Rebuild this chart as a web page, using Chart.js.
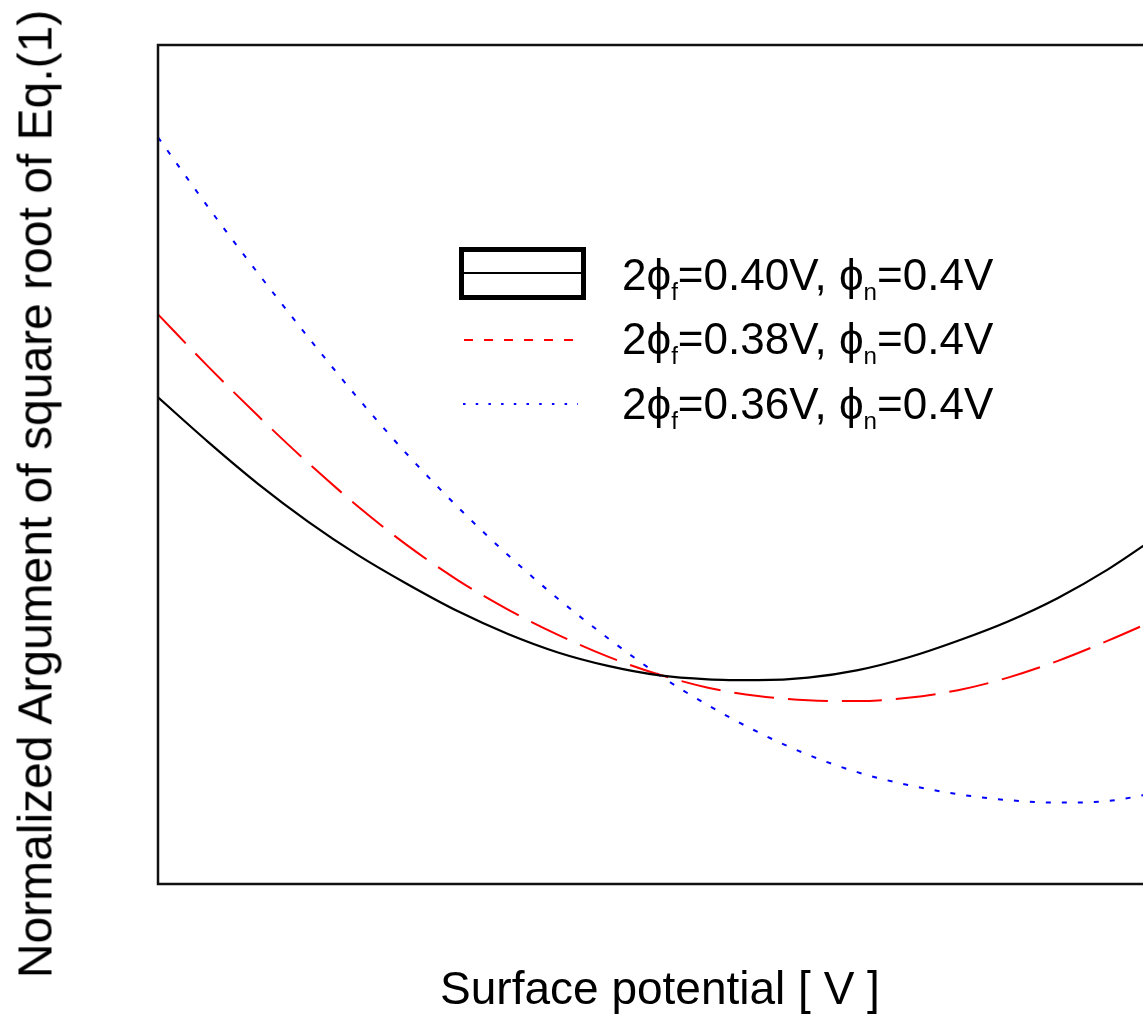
<!DOCTYPE html>
<html>
<head>
<meta charset="utf-8">
<script src="https://cdn.jsdelivr.net/npm/chart.js@4/dist/chart.umd.min.js"></script>
<style>
    html, body { margin: 0; padding: 0; background: #fff; overflow: hidden; }
    #wrap { position: relative; width: 1165px; height: 1014px; }
    #chart { position: absolute; left: 0; top: 0; }
    .txt { position: absolute; white-space: nowrap; font-family: "Liberation Sans", Arial, sans-serif; color: #000; }
    #ytitle { left: 35px; top: 494px; font-size: 48px; transform: translate(-50%, -50%) rotate(-90deg); }
    #xtitle { left: 660px; top: 988px; font-size: 46px; transform: translate(-50%, -50%); }
    .leg { left: 622px; font-size: 44px; transform: translateY(-50%); }
    .leg sub { font-size: 0.55em; vertical-align: -0.4em; line-height: 0; }
    #legbox { position: absolute; left: 459px; top: 247px; width: 127px; height: 53px; box-sizing: border-box; border: 5px solid #000; }
    #legbox div { position: absolute; left: 0; right: 0; top: 20px; height: 2px; background: #000; }
    #legsvg { position: absolute; left: 450px; top: 320px; }
</style>
</head>
<body>
<div id="wrap">
    <canvas id="chart" width="1165" height="1014"></canvas>
    <div id="ytitle" class="txt">Normalized Argument of square root of Eq.(1)</div>
    <div id="xtitle" class="txt">Surface potential [ V ]</div>
    <div id="legbox"><div></div></div>
    <svg id="legsvg" width="140" height="100">
        <line x1="14" y1="20" x2="126" y2="20" stroke="#ff0000" stroke-width="2" stroke-dasharray="9,11"></line>
        <line x1="13" y1="84" x2="128" y2="84" stroke="#0000ff" stroke-width="2" stroke-dasharray="2.5,10.2"></line>
    </svg>
    <div class="txt leg" style="top:275px">2ϕ<sub>f</sub>=0.40V, ϕ<sub>n</sub>=0.4V</div>
    <div class="txt leg" style="top:339px">2ϕ<sub>f</sub>=0.38V, ϕ<sub>n</sub>=0.4V</div>
    <div class="txt leg" style="top:404px">2ϕ<sub>f</sub>=0.36V, ϕ<sub>n</sub>=0.4V</div>
</div>
<script>
// surface potential (no tick labels in the figure, so just a relative scale)
const xs = [0, 0.05, 0.1, 0.15, 0.2, 0.25, 0.3, 0.35, 0.4, 0.45, 0.5,
            0.55, 0.6, 0.65, 0.7, 0.75, 0.8, 0.85, 0.9, 0.95, 1.0];

// 2phi_f = 0.40V
const phi040 = [0.580, 0.527, 0.477, 0.432, 0.392, 0.357, 0.325, 0.298, 0.276, 0.260, 0.249,
                0.244, 0.243, 0.246, 0.255, 0.270, 0.290, 0.313, 0.341, 0.375, 0.415];
// 2phi_f = 0.38V
const phi038 = [0.679, 0.617, 0.558, 0.502, 0.450, 0.403, 0.362, 0.327, 0.297, 0.271, 0.250,
                0.234, 0.224, 0.219, 0.218, 0.222, 0.231, 0.246, 0.266, 0.290, 0.316];
// 2phi_f = 0.36V
const phi036 = [0.890, 0.807, 0.728, 0.652, 0.579, 0.511, 0.449, 0.392, 0.340, 0.293, 0.250,
                0.213, 0.181, 0.154, 0.133, 0.118, 0.107, 0.100, 0.097, 0.099, 0.109];

function pts(ys) {
    return xs.map((x, i) => ({ x: x, y: ys[i] }));
}

// plot frame (all four sides)
const framePlugin = {
    id: 'frame',
    afterDraw(chart) {
        const a = chart.chartArea;
        const ctx = chart.ctx;
        ctx.save();
        ctx.strokeStyle = '#111';
        ctx.lineWidth = 2.5;
        ctx.strokeRect(a.left, a.top, a.right - a.left, a.bottom - a.top);
        ctx.restore();
    }
};

const ctx = document.getElementById('chart').getContext('2d');
const chart = new Chart(ctx, {
    type: 'line',
    data: {
        datasets: [
            {
                label: '2ϕf=0.40V, ϕn=0.4V',
                data: pts(phi040),
                borderColor: '#000000',
                borderWidth: 2.2,
                pointRadius: 0,
                cubicInterpolationMode: 'monotone',
                fill: false
            },
            {
                label: '2ϕf=0.38V, ϕn=0.4V',
                data: pts(phi038),
                borderColor: '#ff0000',
                borderWidth: 2,
                borderDash: [40, 14],
                pointRadius: 0,
                cubicInterpolationMode: 'monotone',
                fill: false
            },
            {
                label: '2ϕf=0.36V, ϕn=0.4V',
                data: pts(phi036),
                borderColor: '#0000ff',
                borderWidth: 2,
                borderDash: [5, 11],
                pointRadius: 0,
                cubicInterpolationMode: 'monotone',
                fill: false
            }
        ]
    },
    options: {
        responsive: false,
        animation: false,
        layout: { padding: { left: 158, top: 45, right: 7, bottom: 130 } },
        plugins: {
            legend: { display: false },
            tooltip: { enabled: false }
        },
        scales: {
            x: { type: 'linear', min: 0, max: 1.0, display: false },
            y: { type: 'linear', min: 0, max: 1.0, display: false }
        }
    },
    plugins: [framePlugin]
});
</script>
</body>
</html>
